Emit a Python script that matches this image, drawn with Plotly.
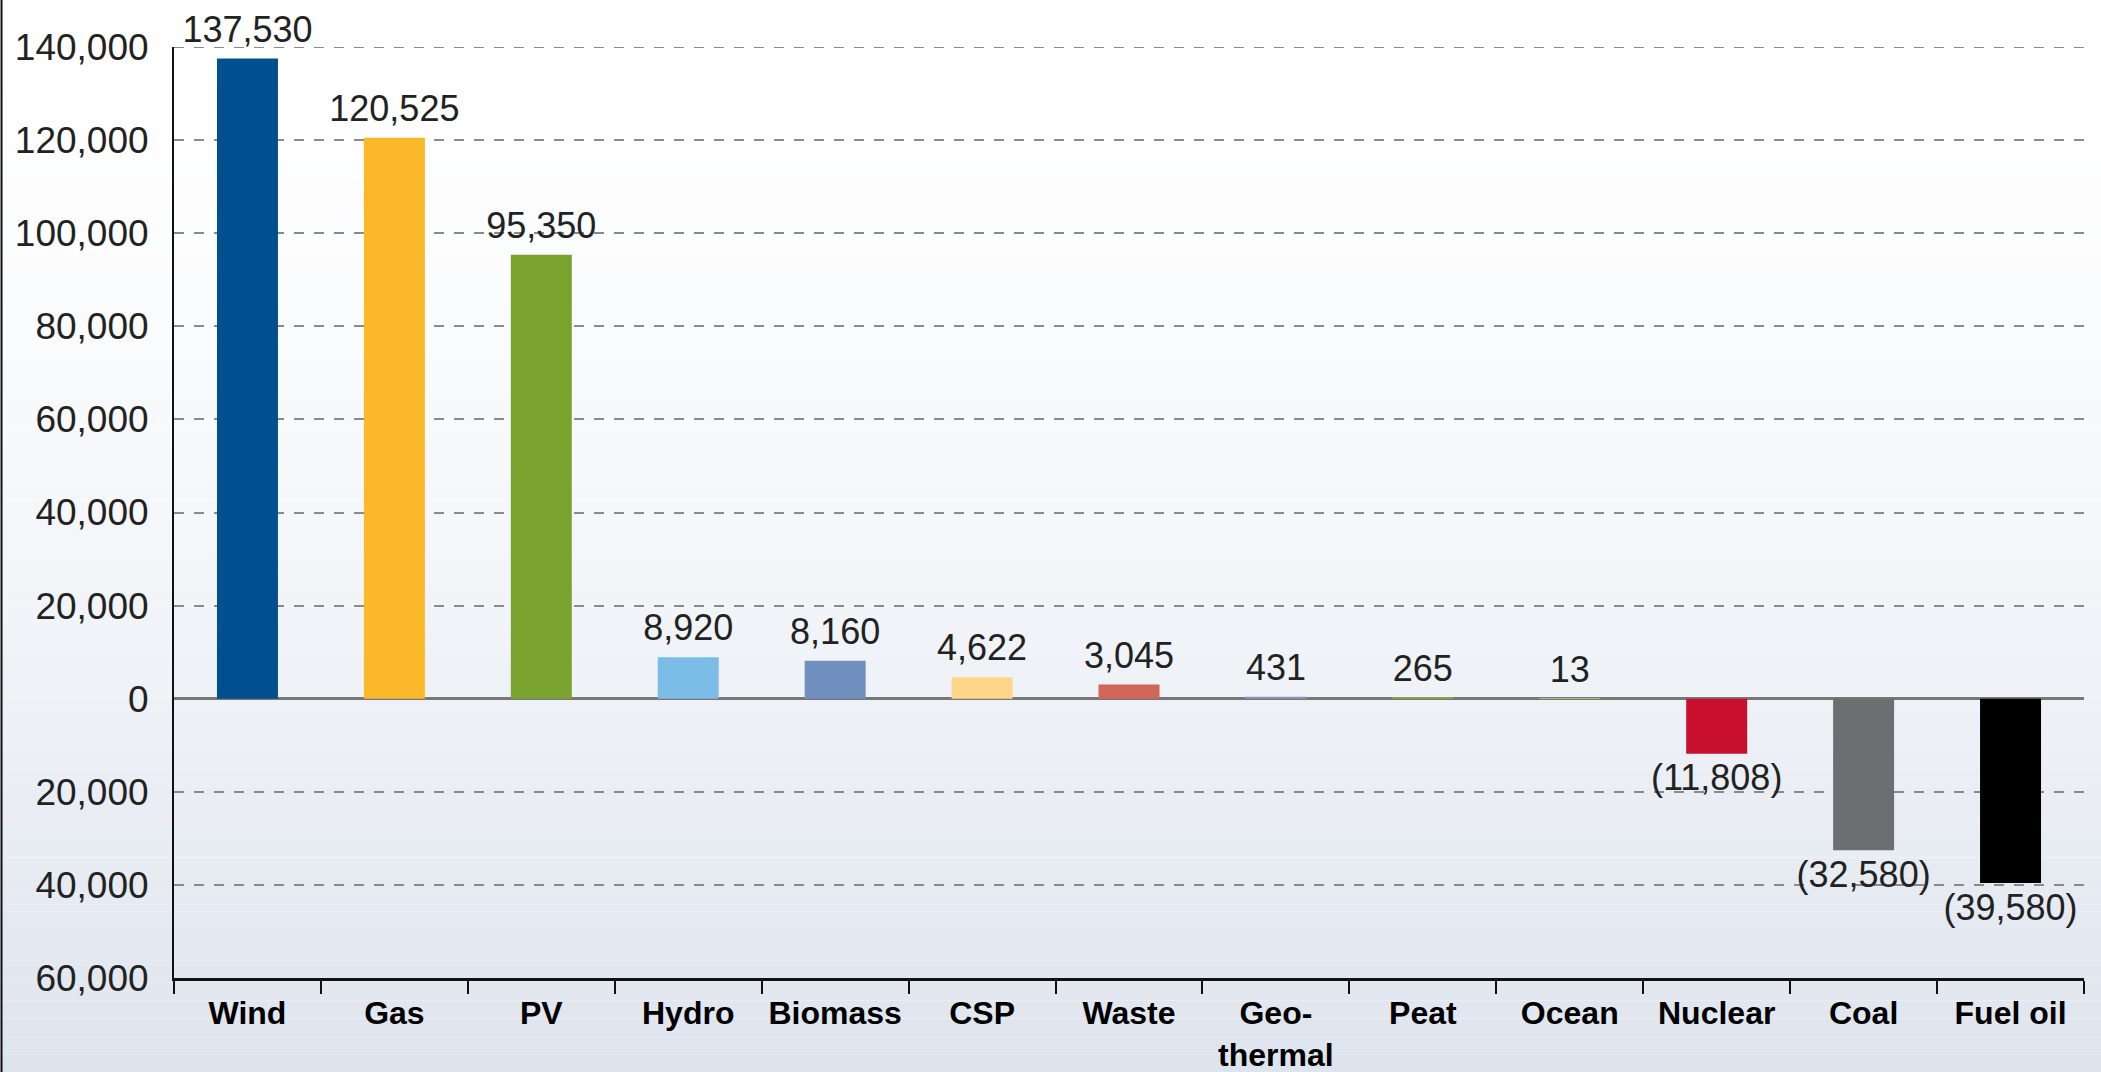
"""Net capacity change by technology - bar chart with negative values."""

import plotly.graph_objects as go

# data
technologies = ["Wind", "Gas", "PV", "Hydro", "Biomass", "CSP", "Waste",
                "Geo-<br>thermal", "Peat", "Ocean", "Nuclear", "Coal", "Fuel oil"]
capacity_mw = [137530, 120525, 95350, 8920, 8160, 4622, 3045,
               431, 265, 13, -11808, -32580, -39580]
y_ticks = [-60000, -40000, -20000, 0, 20000, 40000, 60000,
           80000, 100000, 120000, 140000]

bar_colors = ["#00508f", "#fbb829", "#7aa22f", "#7bbde6", "#7190bf", "#fdd68a",
              "#d2665a", "#8c8fc0", "#8aa050", "#a9c17a", "#c8102e", "#6d6e71",
              "#000000"]

W, H = 2101, 1072
M_L, M_R, M_T, M_B = 174, 17, 47, 94
FONT = "Liberation Sans, Arial, sans-serif"


def fmt(v):
    # negatives shown in parentheses, accounting style
    return f"({abs(v):,})" if v < 0 else f"{v:,}"


fig = go.Figure()

fig.add_trace(
    go.Bar(
        x=technologies,
        y=capacity_mw,
        marker=dict(color=bar_colors, line=dict(width=0)),
        hovertemplate="%{x}: %{y:,}<extra></extra>",
    )
)

# value labels: invisible markers give the text a little room off the bar end
fig.add_trace(
    go.Scatter(
        x=technologies,
        y=capacity_mw,
        mode="markers+text",
        marker=dict(size=[11 if v >= 0 else 14 for v in capacity_mw], opacity=0),
        text=[fmt(v) for v in capacity_mw],
        textposition=["top center" if v >= 0 else "bottom center" for v in capacity_mw],
        textfont=dict(family=FONT, size=36, color="#222222"),
        cliponaxis=False,
        hoverinfo="skip",
    )
)

# soft vertical gradient background (white -> pale blue-grey)
plot_h = H - M_T - M_B
plot_w = W - M_L - M_R
y_lo, y_hi = -M_B / plot_h, 1 + M_T / plot_h
steps = 60
top_rgb = (255, 255, 255)
bot_rgb = (222, 228, 238)
shapes = []
for i in range(steps):
    t = i / (steps - 1)
    k = t ** 1.6
    r, g, b = (round(top_rgb[c] + (bot_rgb[c] - top_rgb[c]) * k) for c in range(3))
    y1 = y_hi - (y_hi - y_lo) * i / steps
    y0 = y_hi - (y_hi - y_lo) * (i + 1) / steps
    shapes.append(dict(type="rect", xref="paper", yref="paper",
                       x0=-M_L / plot_w, x1=1 + M_R / plot_w, y0=y0, y1=y1,
                       fillcolor=f"rgb({r},{g},{b})", line=dict(width=0),
                       layer="below"))
# thin frame line on the left edge
shapes.append(dict(type="line", xref="paper", yref="paper",
                   x0=-M_L / plot_w + 0.0008, x1=-M_L / plot_w + 0.0008,
                   y0=y_lo, y1=y_hi, line=dict(color="#111111", width=2)))
# top gridline sits on the range edge, plotly skips it, so draw it
shapes.append(dict(type="line", xref="paper", yref="y",
                   x0=0, x1=1, y0=y_ticks[-1], y1=y_ticks[-1],
                   line=dict(color="#8a8a8a", width=2, dash="10px,10px"),
                   layer="below"))

fig.update_layout(
    width=W,
    height=H,
    margin=dict(l=M_L, r=M_R, t=M_T, b=M_B, autoexpand=False),
    paper_bgcolor="white",
    plot_bgcolor="rgba(0,0,0,0)",
    showlegend=False,
    bargap=0.585,
    shapes=shapes,
    font=dict(family=FONT, color="#222222"),
)

fig.update_xaxes(
    automargin=False,
    range=[-0.5, len(technologies) - 0.5],
    tickangle=0,
    showline=True,
    linecolor="#111111",
    linewidth=2.5,
    ticks="outside",
    tickson="boundaries",
    ticklen=13,
    tickwidth=2,
    tickcolor="#111111",
    ticklabelstandoff=5,
    showgrid=False,
    tickfont=dict(family=FONT, size=32, color="#000000", weight="bold"),
)

fig.update_yaxes(
    automargin=False,
    range=[-60000, 140000],
    tickvals=y_ticks,
    ticktext=[f"{abs(v):,}" for v in y_ticks],
    tickfont=dict(family=FONT, size=37, color="#222222"),
    ticklabelstandoff=16,
    showline=True,
    linecolor="#111111",
    linewidth=2,
    showgrid=True,
    gridcolor="#8a8a8a",
    gridwidth=2,
    griddash="10px,10px",
    zeroline=True,
    zerolinecolor="#777777",
    zerolinewidth=2.5,
)

# drop the page's default 8px body margin so the figure fills the window
fig.write_html(
    "out.html",
    config={"displayModeBar": False},
    post_script="document.body.style.margin='0';",
)
